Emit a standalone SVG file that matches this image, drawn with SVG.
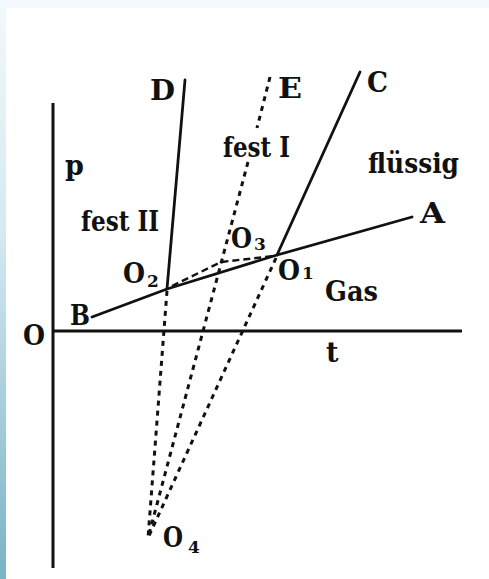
<svg xmlns="http://www.w3.org/2000/svg" width="489" height="579" viewBox="0 0 489 579">
<style>
.lbl{font-family:"DejaVu Serif","Liberation Serif",serif;font-weight:bold;font-size:27px;fill:#111}
.sub{font-family:"DejaVu Serif","Liberation Serif",serif;font-weight:bold;font-size:17px;fill:#111}
.solid{fill:none;stroke:#111;stroke-width:2.8;stroke-linecap:round;stroke-linejoin:round}
.axis{fill:none;stroke:#111;stroke-width:3}
.dot{fill:none;stroke:#111;stroke-width:3;stroke-dasharray:5 5}
.dash{fill:none;stroke:#111;stroke-width:2.4;stroke-dasharray:7 4}
</style>
<defs>
<linearGradient id="edge" x1="0" y1="0" x2="0" y2="1">
<stop offset="0" stop-color="#f2f9fc"/>
<stop offset="0.4" stop-color="#d5e9f0"/>
<stop offset="1" stop-color="#79b3c6"/>
</linearGradient>
</defs>
<rect x="0" y="0" width="489" height="579" fill="#ffffff"/>
<rect x="0" y="0" width="489" height="8" fill="#f3f9fc"/>
<rect x="0" y="0" width="6" height="579" fill="url(#edge)"/>
<g id="axes">
<line class="axis" x1="53" y1="103" x2="53" y2="568"/>
<line class="axis" x1="53" y1="331" x2="462" y2="331"/>
</g>
<g id="connectors">
<polyline class="solid" points="92,317 167,289 277,255 412,217"/>
<line class="solid" x1="167" y1="289" x2="185" y2="80"/>
<line class="solid" x1="277" y1="255" x2="360" y2="72"/>
<line class="dot" x1="270" y1="77" x2="257" y2="128"/>
<line class="dot" x1="248" y1="162" x2="148" y2="538"/>
<line class="dot" x1="167" y1="291" x2="148" y2="538"/>
<line class="dot" x1="276" y1="258" x2="148" y2="538"/>
<polyline class="dash" points="172,286 221,262 274,256"/>
</g>
<g id="labels">
<text class="lbl" x="150" y="100" textLength="25" lengthAdjust="spacingAndGlyphs">D</text>
<text class="lbl" x="278" y="98" textLength="24" lengthAdjust="spacingAndGlyphs">E</text>
<text class="lbl" x="367" y="92" textLength="21" lengthAdjust="spacingAndGlyphs">C</text>
<text class="lbl" x="223" y="157" textLength="67" lengthAdjust="spacingAndGlyphs">fest I</text>
<text class="lbl" x="368" y="173" textLength="91" lengthAdjust="spacingAndGlyphs">flüssig</text>
<text class="lbl" x="65" y="175">p</text>
<text class="lbl" x="81" y="231" textLength="78" lengthAdjust="spacingAndGlyphs">fest II</text>
<text class="lbl" x="420" y="223" textLength="25" lengthAdjust="spacingAndGlyphs">A</text>
<text class="lbl" x="70" y="325" textLength="20" lengthAdjust="spacingAndGlyphs">B</text>
<text class="lbl" x="23" y="345" textLength="22" lengthAdjust="spacingAndGlyphs">O</text>
<text class="lbl" x="325" y="301" textLength="53" lengthAdjust="spacingAndGlyphs">Gas</text>
<text class="lbl" x="326" y="362">t</text>
<text class="lbl" x="123" y="283" textLength="22" lengthAdjust="spacingAndGlyphs">O</text><text class="sub" x="147" y="287">2</text>
<text class="lbl" x="231" y="248" textLength="21" lengthAdjust="spacingAndGlyphs">O</text><text class="sub" x="254" y="250">3</text>
<text class="lbl" x="278" y="280" textLength="22" lengthAdjust="spacingAndGlyphs">O</text><text class="sub" x="302" y="279">1</text>
<text class="lbl" x="163" y="547" textLength="20" lengthAdjust="spacingAndGlyphs">O</text><text class="sub" x="188" y="553">4</text>
</g>
</svg>
